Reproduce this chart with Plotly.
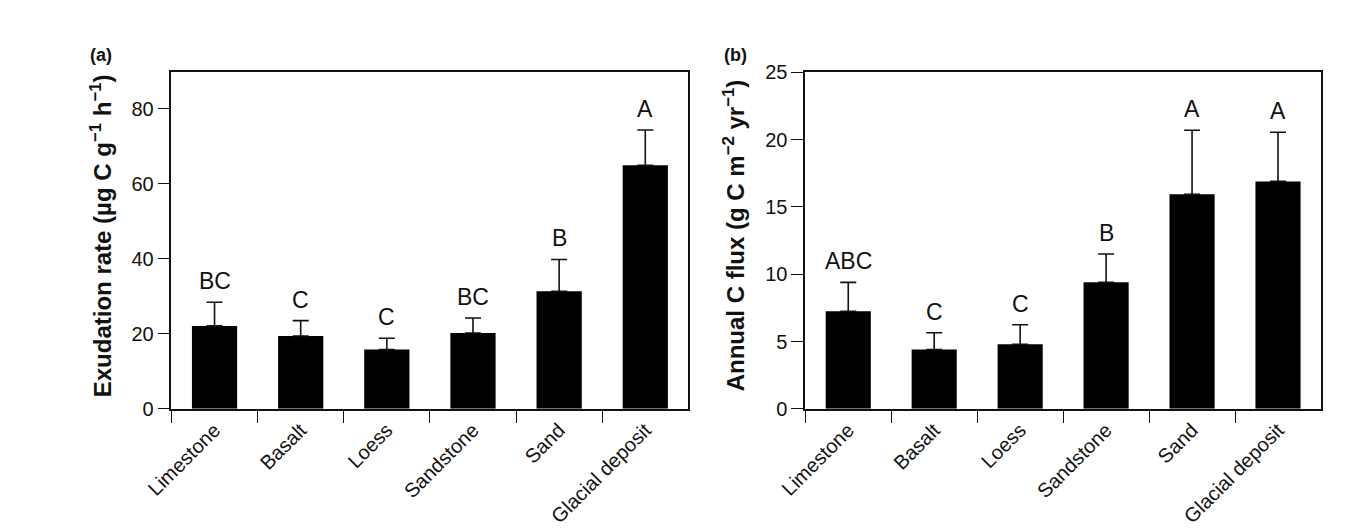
import plotly.graph_objects as go

categories = ["Limestone", "Basalt", "Loess", "Sandstone", "Sand", "Glacial deposit"]

# Panel (a): exudation rate
exud_mean = [22.1, 19.4, 15.8, 20.2, 31.3, 64.9]
exud_se = [6.3, 4.1, 3.0, 4.0, 8.5, 9.4]
exud_letters = ["BC", "C", "C", "BC", "B", "A"]

# Panel (b): annual C flux
flux_mean = [7.25, 4.4, 4.8, 9.4, 15.95, 16.9]
flux_se = [2.15, 1.25, 1.45, 2.1, 4.75, 3.65]
flux_letters = ["ABC", "C", "C", "B", "A", "A"]

FONT = "Arial, Liberation Sans, Helvetica, sans-serif"
INK = "#111111"

fig = go.Figure()

def add_panel(means, ses, xa, ya):
    fig.add_trace(go.Bar(
        x=categories, y=means, xaxis=xa, yaxis=ya,
        marker=dict(color="black", line=dict(color="black", width=0)),
        error_y=dict(type="data", symmetric=False, array=ses,
                     arrayminus=[0] * len(ses), color=INK,
                     thickness=1.6, width=8),
        showlegend=False,
    ))

add_panel(exud_mean, exud_se, "x", "y")
add_panel(flux_mean, flux_se, "x2", "y2")

ydom = [0.2326, 0.8949]
axis_common = dict(showline=True, linecolor=INK, linewidth=1.6, mirror=True,
                   ticks="outside", ticklen=12, tickwidth=1.4, tickcolor=INK,
                   showgrid=False, zeroline=False,
                   tickfont=dict(family=FONT, size=20, color=INK))

fig.update_layout(
    width=1348, height=530,
    margin=dict(l=0, r=0, t=0, b=0),
    plot_bgcolor="white", paper_bgcolor="white",
    bargap=0.475,
    font=dict(family=FONT, color=INK),
    xaxis=dict(domain=[0.1033, 0.4946], anchor="y", type="category",
               tickson="boundaries", tickangle=-45, **axis_common),
    yaxis=dict(domain=ydom, anchor="x", range=[0, 89.65],
               tickvals=[0, 20, 40, 60, 80], **axis_common),
    xaxis2=dict(domain=[0.5831, 0.9735], anchor="y2", type="category",
                tickson="boundaries", tickangle=-45, **axis_common),
    yaxis2=dict(domain=ydom, anchor="x2", range=[0, 25],
                tickvals=[0, 5, 10, 15, 20, 25], **axis_common),
)

annotations = []
for cat, m, s, lab in zip(categories, exud_mean, exud_se, exud_letters):
    annotations.append(dict(x=cat, y=m + s, xref="x", yref="y", text=lab,
                            showarrow=False, yanchor="bottom", yshift=6,
                            font=dict(family=FONT, size=23, color=INK)))
for cat, m, s, lab in zip(categories, flux_mean, flux_se, flux_letters):
    annotations.append(dict(x=cat, y=m + s, xref="x2", yref="y2", text=lab,
                            showarrow=False, yanchor="bottom", yshift=6,
                            font=dict(family=FONT, size=23, color=INK)))

# y-axis titles
annotations.append(dict(x=67 / 1348, y=(530 - 226) / 530, xref="paper", yref="paper",
                        text="<b>Exudation rate (µg C g<sup>−1</sup> h<sup>−1</sup>)</b>",
                        textangle=-90, showarrow=False, xanchor="center", yanchor="middle",
                        font=dict(family=FONT, size=24, color=INK)))
annotations.append(dict(x=713 / 1348, y=(530 - 226) / 530, xref="paper", yref="paper",
                        text="<b>Annual C flux (g C m<sup>−2</sup> yr<sup>−1</sup>)</b>",
                        textangle=-90, showarrow=False, xanchor="center", yanchor="middle",
                        font=dict(family=FONT, size=24, color=INK)))
# panel labels
annotations.append(dict(x=67 / 1348, y=(530 - 38) / 530, xref="paper", yref="paper",
                        text="<b>(a)</b>", showarrow=False, xanchor="center", yanchor="middle",
                        font=dict(family=FONT, size=18, color=INK)))
annotations.append(dict(x=715 / 1348, y=(530 - 38) / 530, xref="paper", yref="paper",
                        text="<b>(b)</b>", showarrow=False, xanchor="center", yanchor="middle",
                        font=dict(family=FONT, size=18, color=INK)))

fig.update_layout(annotations=annotations)

fig.write_html("out.html")
